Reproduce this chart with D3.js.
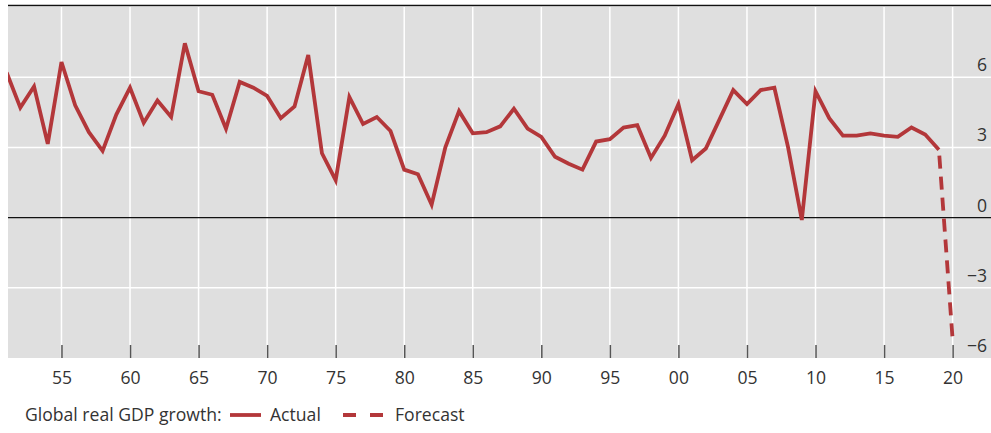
<!DOCTYPE html>
<html>
<head>
<meta charset="utf-8">
<script src="https://cdn.jsdelivr.net/npm/d3@7"></script>
<style>
  body { margin: 0; background: #fff; }
  svg { display: block; font-family: "Open Sans", sans-serif; }
</style>
</head>
<body>
<svg width="991" height="433"></svg>
<script>
// global real GDP growth, % (1951-2019 actual, 2020 forecast)
var years = d3.range(1951, 2020);
var actual = [6.2, 4.7, 5.6, 3.15, 6.65, 4.8, 3.65, 2.85, 4.4, 5.55,
  4.05, 5.0, 4.3, 7.45, 5.4, 5.25, 3.8, 5.8, 5.55, 5.2,
  4.25, 4.75, 6.95, 2.75, 1.6, 5.15, 4.0, 4.3, 3.7, 2.05,
  1.85, 0.55, 3.0, 4.55, 3.6, 3.65, 3.9, 4.65, 3.8, 3.45,
  2.6, 2.3, 2.05, 3.25, 3.35, 3.85, 3.95, 2.55, 3.5, 4.85,
  2.45, 2.95, 4.2, 5.45, 4.85, 5.45, 5.55, 3.0, -0.1, 5.4,
  4.25, 3.5, 3.5, 3.6, 3.5, 3.45, 3.85, 3.55, 2.9];
var fcYears = [2019, 2020];
var forecast = [2.9, -5.2];
var xTicks = d3.range(1955, 2021, 5);
var yTicks = [-6, -3, 0, 3, 6];

(function() {
var svg = d3.select("svg"),
    pl = 8, pr = 991, pt = 7, pb = 358,
    fs = 17.6;

var x = d3.scaleLinear().domain([1951.1, 2022.8]).range([pl, pr]);
var y = d3.scaleLinear().domain([-6, 9]).range([pb, pt]);

var red = "#b3373a";

svg.append("defs").append("clipPath").attr("id", "plot")
  .append("rect").attr("x", pl).attr("y", pt)
  .attr("width", pr - pl).attr("height", pb - pt + 2);

svg.append("rect")
  .attr("x", pl).attr("y", pt)
  .attr("width", pr - pl).attr("height", pb - pt)
  .attr("fill", "#dfdfdf");

// grid
svg.append("g").selectAll("line")
  .data(xTicks)
  .enter().append("line")
    .attr("x1", function(d) { return x(d); })
    .attr("x2", function(d) { return x(d); })
    .attr("y1", pt).attr("y2", pb)
    .attr("stroke", "#fff").attr("stroke-width", 1.5);

svg.append("g").selectAll("line")
  .data(yTicks.filter(function(d) { return d != 0 && d != -6; }))
  .enter().append("line")
    .attr("x1", pl).attr("x2", pr)
    .attr("y1", function(d) { return y(d); })
    .attr("y2", function(d) { return y(d); })
    .attr("stroke", "#fff").attr("stroke-width", 1.5);

// zero line + top border
svg.append("line")
  .attr("x1", pl).attr("x2", pr)
  .attr("y1", y(0)).attr("y2", y(0))
  .attr("stroke", "#111").attr("stroke-width", 1.3);
svg.append("line")
  .attr("x1", pl).attr("x2", pr)
  .attr("y1", 5.5).attr("y2", 5.5)
  .attr("stroke", "#111").attr("stroke-width", 1.5);

// x axis
var xAxis = d3.axisBottom(x)
  .tickValues(xTicks)
  .tickSize(-13)
  .tickPadding(14)
  .tickFormat(function(d) { return String(d).slice(2); });

var gx = svg.append("g")
  .attr("transform", "translate(0," + pb + ")")
  .call(xAxis);
gx.select(".domain").remove();
gx.selectAll(".tick line").attr("stroke", "#555").attr("stroke-width", 1.5);
gx.selectAll(".tick text").attr("font-size", fs).attr("fill", "#333")
  .attr("font-family", "Open Sans, sans-serif");

// y labels, right side
svg.append("g").selectAll("text")
  .data(yTicks)
  .enter().append("text")
    .attr("x", 987)
    .attr("y", function(d) { return y(d) - 6; })
    .attr("text-anchor", "end")
    .attr("font-size", fs)
    .attr("fill", "#333")
    .text(function(d) { return d3.format("d")(d); });

// lines
var line = d3.line()
  .x(function(d) { return x(d[0]); })
  .y(function(d) { return y(d[1]); });

var plot = svg.append("g").attr("clip-path", "url(#plot)");

plot.append("path")
  .datum(d3.zip(years, actual))
  .attr("d", line)
  .attr("fill", "none")
  .attr("stroke", red)
  .attr("stroke-width", 3.8)
  .attr("stroke-linejoin", "miter");

plot.append("path")
  .datum(d3.zip(fcYears, forecast))
  .attr("d", line)
  .attr("fill", "none")
  .attr("stroke", red)
  .attr("stroke-width", 3.8)
  .attr("stroke-dasharray", "13,8")
  .attr("stroke-dashoffset", -6);

// legend
var legend = svg.append("g").attr("font-size", fs).attr("fill", "#333");
legend.append("text").attr("x", 25).attr("y", 421).text("Global real GDP growth:");
legend.append("line")
  .attr("x1", 230).attr("x2", 261).attr("y1", 415).attr("y2", 415)
  .attr("stroke", red).attr("stroke-width", 3.8);
legend.append("text").attr("x", 270).attr("y", 421).text("Actual");
legend.append("line")
  .attr("x1", 343).attr("x2", 383).attr("y1", 415).attr("y2", 415)
  .attr("stroke", red).attr("stroke-width", 3.8)
  .attr("stroke-dasharray", "13,14");
legend.append("text").attr("x", 395).attr("y", 421).text("Forecast");
})();
</script>
</body>
</html>
